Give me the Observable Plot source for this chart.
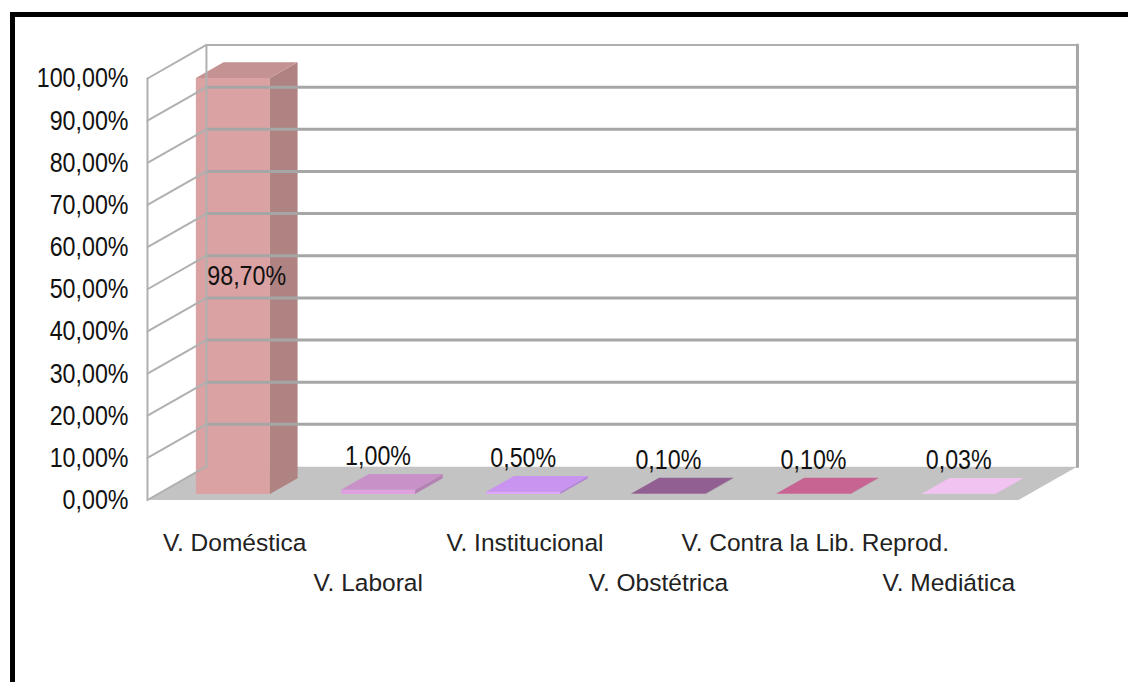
<!DOCTYPE html>
<html><head><meta charset="utf-8">
<script src="https://cdn.jsdelivr.net/npm/d3@7"></script>
<script src="https://cdn.jsdelivr.net/npm/@observablehq/plot@0.6"></script>
<style>
html,body{margin:0;padding:0;background:#fff;overflow:hidden;width:1128px;height:682px;}
#frame{position:absolute;left:10px;top:12px;width:1300px;height:900px;border:5px solid #000;box-sizing:border-box;}
#chart{position:absolute;left:0;top:0;}
</style></head><body>
<div id="frame"></div><div id="chart"></div>
<script>
// ---- data ----
const categories = ["V. Doméstica", "V. Laboral", "V. Institucional", "V. Obstétrica", "V. Contra la Lib. Reprod.", "V. Mediática"];
const values = [98.7, 1.0, 0.5, 0.1, 0.1, 0.03];
const valueLabels = ["98,70%", "1,00%", "0,50%", "0,10%", "0,10%", "0,03%"];
const topColors = ["#c49292", "#c892c8", "#c894f0", "#915f91", "#c86491", "#f0c3f0"];
const yTicks = [0, 10, 20, 30, 40, 50, 60, 70, 80, 90, 100];

// ---- 3D box geometry (oblique projection in data units) ----
const N = categories.length;
const DX = 0.406, DY = 7.95;   // full depth of the box
const D0 = 0.18, D1 = 0.65;    // bar depth range
const BW0 = 0.26, BW1 = 0.77;  // bar extent inside category slot
const YMAX = 100;

const polys = [];
function poly(id, fill, pts) { pts.forEach(([x, y]) => polys.push({id, fill, x, y})); }

// floor, side wall, back wall
poly("floor", "#c3c3c3", [[0, 0], [N, 0], [N + DX, DY], [DX, DY]]);
poly("side", "#ffffff", [[0, 0], [DX, DY], [DX, YMAX + DY], [0, YMAX]]);
poly("back", "#ffffff", [[DX, DY], [N + DX, DY], [N + DX, YMAX + DY], [DX, YMAX + DY]]);

// bars
values.forEach((v, i) => {
  const c = d3.color(topColors[i]);
  const front = c.brighter(0.3).formatHex(), side = c.darker(0.3).formatHex(), top = c.formatHex();
  const x0 = i + BW0, x1 = i + BW1;
  const ax = D0 * DX, ay = D0 * DY, bx = D1 * DX, by = D1 * DY;
  poly("bf" + i, front, [[x0 + ax, ay], [x1 + ax, ay], [x1 + ax, v + ay], [x0 + ax, v + ay]]);
  poly("bs" + i, side, [[x1 + ax, ay], [x1 + bx, by], [x1 + bx, v + by], [x1 + ax, v + ay]]);
  poly("bt" + i, top, [[x0 + ax, v + ay], [x1 + ax, v + ay], [x1 + bx, v + by], [x0 + bx, v + by]]);
});

// grid lines on walls
const backGrid = [], sideGrid = [];
yTicks.filter(t => t > 0 && t < YMAX).forEach(t => {
  backGrid.push({id: t, x: DX, y: t + DY}, {id: t, x: N + DX, y: t + DY});
  sideGrid.push({id: t, x: 0, y: t}, {id: t, x: DX, y: t + DY});
});
const edgesThin = [
  {id: "top", x: 0, y: YMAX}, {id: "top", x: DX, y: YMAX + DY}, {id: "top", x: N + DX, y: YMAX + DY},
  {id: "fl", x: 0, y: 0}, {id: "fl", x: 0, y: YMAX},
  {id: "bl", x: DX, y: DY}, {id: "bl", x: DX, y: YMAX + DY},
  {id: "sb", x: 0, y: 0}, {id: "sb", x: DX, y: DY}
];
const edgesThick = [
  {id: "br", x: N + DX, y: DY}, {id: "br", x: N + DX, y: YMAX + DY}
];

const idx = d3.range(N);
const fmt = d => d.toFixed(2).replace(".", ",") + "%";
const regular = "'Liberation Sans', Arial, sans-serif";

const chart = Plot.plot({
  width: 1128, height: 682,
  marginLeft: 147, marginRight: 110, marginTop: 78, marginBottom: 182.5,
  style: {background: "transparent", overflow: "visible"},
  x: {domain: [0, N], axis: null},
  y: {domain: [0, YMAX], label: null},
  color: {type: "identity"},
  marks: [
    Plot.line(polys, {x: "x", y: "y", z: "id", fill: "fill", stroke: "none", curve: "linear-closed"}),
    Plot.line(sideGrid, {x: "x", y: "y", z: "id", stroke: "#b0b0b0", strokeWidth: 2}),
    Plot.line(backGrid, {x: "x", y: "y", z: "id", stroke: "#a6a6a6", strokeWidth: 3}),
    Plot.line(edgesThin, {x: "x", y: "y", z: "id", stroke: "#b0b0b0", strokeWidth: 2}),
    Plot.line(edgesThick, {x: "x", y: "y", z: "id", stroke: "#a6a6a6", strokeWidth: 3}),
    // value labels
    Plot.text(idx.filter(i => values[i] > 50), {
      x: i => i + (BW0 + BW1) / 2 + DX * (D0 + D1) / 2,
      y: i => values[i] / 2 + DY * (D0 + D1) / 2,
      text: i => valueLabels[i], dy: -2, fontSize: 28, fontFamily: regular, fill: "#111"
    }),
    Plot.text(idx.filter(i => values[i] <= 50), {
      x: i => i + (BW0 + BW1) / 2 + DX * D0,
      y: i => values[i] + DY * D0,
      text: i => valueLabels[i], dy: -34, fontSize: 28, fontFamily: regular, fill: "#111"
    }),
    // category labels, staggered in two rows
    Plot.text(idx.filter(i => i % 2 === 0), {
      x: i => i + 0.6, y: () => 0, text: i => categories[i],
      dy: 43, fontSize: 24.5, fontFamily: regular, fill: "#222"
    }),
    Plot.text(idx.filter(i => i % 2 === 1), {
      x: i => i + 0.52, y: () => 0, text: i => categories[i],
      dy: 83, fontSize: 24.5, fontFamily: regular, fill: "#222"
    }),
    Plot.axisY(yTicks, {
      tickSize: 0, tickPadding: 19, tickFormat: fmt,
      fontSize: 28, fontFamily: regular, fill: "#111", label: null
    })
  ]
});
document.getElementById("chart").appendChild(chart);
// condensed look of the percentage labels (no narrow font installed)
chart.querySelectorAll("text").forEach(t => {
  if (/%$/.test(t.textContent.trim())) {
    const w = t.getComputedTextLength();
    t.setAttribute("textLength", (w * 0.83).toFixed(1));
    t.setAttribute("lengthAdjust", "spacingAndGlyphs");
  }
});
</script>
</body></html>
